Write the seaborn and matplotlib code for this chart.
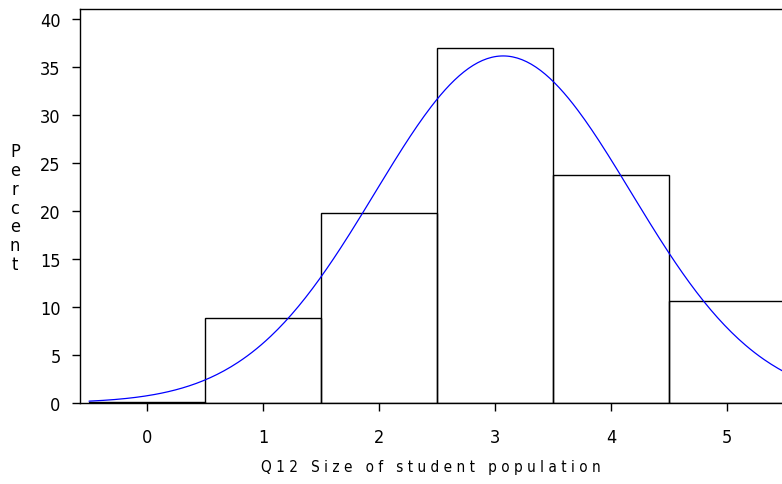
import numpy as np
import pandas as pd
import seaborn as sns
import matplotlib.pyplot as plt

# Data
sizes = [0, 1, 2, 3, 4, 5]
percent = [0.1, 8.9, 19.8, 37.0, 23.7, 10.6]

sns.set_style("white")
plt.rcParams["font.family"] = ["DejaVu Sans"]
plt.rcParams["font.stretch"] = "condensed"
plt.rcParams["text.color"] = "black"
plt.rcParams["xtick.color"] = "black"
plt.rcParams["ytick.color"] = "black"
plt.rcParams["axes.labelcolor"] = "black"

df = pd.DataFrame({"size": sizes, "percent": percent})

# fitted normal curve from the histogram's own mean / sd
w = np.array(percent) / sum(percent)
mu = np.sum(w * np.array(sizes))
sd = np.sqrt(np.sum(w * (np.array(sizes) - mu) ** 2))
xs = np.linspace(-0.5, 5.5, 300)
curve = pd.DataFrame({
    "x": xs,
    "y": 100 / (sd * np.sqrt(2 * np.pi)) * np.exp(-0.5 * ((xs - mu) / sd) ** 2),
})

fig = plt.figure(figsize=(7.82, 4.85), dpi=100)
ax = fig.add_axes([0.1023, 0.167, 0.8977, 0.8124])

sns.histplot(data=df, x="size", weights="percent", discrete=True,
             fill=False, color="black", linewidth=1, ax=ax)
sns.lineplot(data=curve, x="x", y="y", color="blue", linewidth=0.9, ax=ax)

ax.set_xlim(-0.578, 5.474)
ax.set_ylim(0, 41.04)
ax.set_yticks(range(0, 41, 5))
ax.set_xticks(sizes)

for s in ["top", "left", "bottom"]:
    ax.spines[s].set_color("black")
    ax.spines[s].set_linewidth(1)
ax.spines["right"].set_visible(False)

ax.tick_params(axis="both", direction="out", length=6, width=1,
               color="black", labelcolor="black", labelsize=13,
               left=True, bottom=True)
ax.tick_params(axis="x", pad=12)
ax.tick_params(axis="y", pad=8)

ax.set_xlabel("Q 1 2   S i z e   o f   s t u d e n t   p o p u l a t i o n",
              fontsize=11, labelpad=9, color="black")
ax.set_ylabel("")
fig.text(0.019, 0.57, "\n".join("Percent"), fontsize=13, ha="center",
         va="center", linespacing=1.05, color="black")

plt.savefig("out.png", dpi=100)
